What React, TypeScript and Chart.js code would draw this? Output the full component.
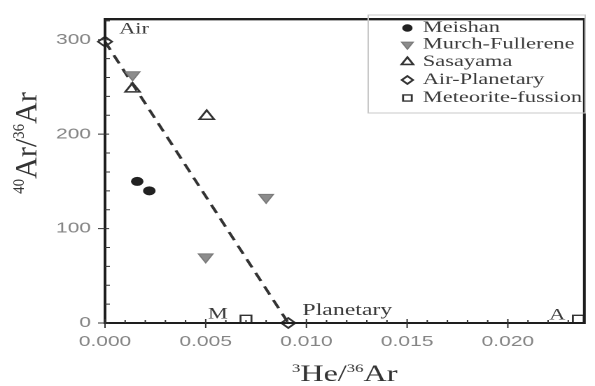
import React, { useEffect, useRef } from 'react';
import { Chart, registerables } from 'chart.js';
import { drawPoint } from 'chart.js/helpers';

Chart.register(...registerables);

// ---- data ----
const seriesNames = ['Meishan', 'Murch-Fullerene', 'Sasayama', 'Air-Planetary', 'Meteorite-fussion'];
const meishanX = [0.0016, 0.0022];
const meishanY = [150, 140];
const murchX = [0.00137, 0.005, 0.008];
const murchY = [263, 70, 133];
const sasayamaX = [0.00137, 0.00505];
const sasayamaY = [248, 219];
const airPlanetaryX = [0, 0.0091];
const airPlanetaryY = [298, 0];
const meteoriteX = [0.007, 0.0235];
const meteoriteY = [4, 4];
const xTicks = [0, 0.005, 0.01, 0.015, 0.02];
const yTicks = [0, 100, 200, 300];
const labelTexts = ['Air', 'M', 'Planetary', 'A'];
const labelX = [0.0007, 0.0056, 0.0098, 0.02245];
const labelY = [311, 9, 13, 8];

const SX = 1.4; // horizontal stretch of the original picture
const W = 425;
const H = 386;
const SERIF = '"Liberation Serif", "Times New Roman", serif';
const SANS = '"Liberation Sans", Arial, sans-serif';

const zip = (xs: number[], ys: number[]) => xs.map((x, i) => ({ x, y: ys[i] }));

const styles: any[] = [
  { pointStyle: 'circle', radius: 4, rotation: 0, bg: '#222', border: '#222', bw: 1 },
  { pointStyle: 'triangle', radius: 6, rotation: 180, bg: '#8c8c8c', border: '#7a7a7a', bw: 1 },
  { pointStyle: 'triangle', radius: 6, rotation: 0, bg: 'rgba(0,0,0,0)', border: '#333', bw: 1.6 },
  { pointStyle: 'rectRot', radius: 5, rotation: 0, bg: 'rgba(0,0,0,0)', border: '#333', bw: 1.6 },
  { pointStyle: 'rect', radius: 5.5, rotation: 0, bg: 'rgba(0,0,0,0)', border: '#333', bw: 1.4 },
];

function drawRich(ctx: CanvasRenderingContext2D, parts: { t: string; size: number; dy: number }[], x: number, y: number) {
  let total = 0;
  const widths = parts.map((p) => {
    ctx.font = `${p.size}px ${SERIF}`;
    const w = ctx.measureText(p.t).width;
    total += w;
    return w;
  });
  let cx = x - total / 2;
  parts.forEach((p, i) => {
    ctx.font = `${p.size}px ${SERIF}`;
    ctx.fillText(p.t, cx, y + p.dy);
    cx += widths[i];
  });
}

const decorPlugin = {
  id: 'decor',
  afterDraw(chart: any) {
    const { ctx, chartArea: ca, scales } = chart;
    const xs = scales.x;
    const ys = scales.y;
    ctx.save();
    // frame
    ctx.strokeStyle = '#1e1e1e';
    ctx.lineWidth = 2;
    ctx.strokeRect(ca.left, ca.top, ca.right - ca.left, ca.bottom - ca.top);
    ctx.lineWidth = 1.2;
    ctx.beginPath();
    ctx.moveTo(ca.left, ca.top + 0.8);
    ctx.lineTo(ca.right, ca.top + 0.8);
    ctx.stroke();
    // ticks
    ctx.lineWidth = 1;
    ctx.strokeStyle = '#333';
    ctx.beginPath();
    for (let i = 0; i <= 23; i++) {
      const v = i * 0.001;
      const p = xs.getPixelForValue(v);
      const major = i % 5 === 0;
      ctx.moveTo(p, ca.bottom - (major ? 4 : 3));
      ctx.lineTo(p, ca.bottom + (major ? 5 : 0));
    }
    for (let v = 0; v <= 320; v += 20) {
      const p = ys.getPixelForValue(v);
      const major = v % 100 === 0;
      ctx.moveTo(ca.left - (major ? 5 : 0), p);
      ctx.lineTo(ca.left + (major ? 3 : 3.5), p);
    }
    ctx.stroke();

    // annotations
    ctx.fillStyle = '#3a3a3a';
    ctx.textBaseline = 'middle';
    labelTexts.forEach((t, i) => {
      ctx.font = `${t === 'Planetary' ? 17 : 16}px ${SERIF}`;
      ctx.textAlign = t === 'Air' || t === 'Planetary' ? 'left' : 'center';
      ctx.fillText(t, xs.getPixelForValue(labelX[i]), ys.getPixelForValue(labelY[i]));
    });

    // legend
    const bx = 263, by = 15, bw = 155, bh = 98;
    ctx.strokeStyle = '#c8c8c8';
    ctx.lineWidth = 1;
    ctx.strokeRect(bx, by, bw, bh);
    const rowsY = [28, 44.5, 62, 80, 98];
    seriesNames.forEach((name, i) => {
      const s = styles[i];
      ctx.fillStyle = s.bg;
      ctx.strokeStyle = s.border;
      ctx.lineWidth = s.bw;
      drawPoint(ctx, { pointStyle: s.pointStyle, radius: s.radius * 0.8, rotation: s.rotation, borderWidth: s.bw }, 291, rowsY[i]);
      ctx.fillStyle = '#3a3a3a';
      ctx.font = `16px ${SERIF}`;
      ctx.textAlign = 'left';
      ctx.textBaseline = 'middle';
      ctx.fillText(name, 302, rowsY[i]);
    });

    // axis titles
    ctx.fillStyle = '#333';
    ctx.textAlign = 'left';
    ctx.textBaseline = 'alphabetic';
    drawRich(ctx, [
      { t: '3', size: 12, dy: -9 },
      { t: 'He/', size: 23, dy: 0 },
      { t: '36', size: 12, dy: -9 },
      { t: 'Ar', size: 23, dy: 0 },
    ], (ca.left + ca.right) / 2, 381);

    ctx.translate(18.6, 143);
    ctx.rotate(-Math.PI / 2);
    ctx.scale(1, (1 / SX) * 1.05);
    drawRich(ctx, [
      { t: '40', size: 15, dy: -12 },
      { t: 'Ar/', size: 30, dy: 0 },
      { t: '36', size: 15, dy: -12 },
      { t: 'Ar', size: 30, dy: 0 },
    ], 0, 10);
    ctx.restore();
  },
};

export default function App() {
  const ref = useRef<HTMLCanvasElement | null>(null);
  useEffect(() => {
    document.body.style.margin = '0';
    const canvas = ref.current!;
    const sets = [
      zip(meishanX, meishanY),
      zip(murchX, murchY),
      zip(sasayamaX, sasayamaY),
      zip(airPlanetaryX, airPlanetaryY),
      zip(meteoriteX, meteoriteY),
    ];
    const chart = new Chart(canvas, {
      type: 'scatter',
      data: {
        datasets: sets.map((data, i) => {
          const s = styles[i];
          const ds: any = {
            label: seriesNames[i],
            data,
            pointStyle: s.pointStyle,
            pointRadius: s.radius,
            pointRotation: s.rotation,
            pointBackgroundColor: s.bg,
            pointBorderColor: s.border,
            pointBorderWidth: s.bw,
            backgroundColor: s.bg,
            borderColor: s.border,
            clip: false,
          };
          if (i === 3) {
            ds.showLine = true;
            ds.borderDash = [9, 6];
            ds.borderWidth = 2.2;
            ds.borderColor = '#333';
          }
          return ds;
        }),
      },
      options: {
        animation: false,
        responsive: false,
        devicePixelRatio: 2,
        layout: { padding: { top: 10, right: 3.5, left: 0, bottom: 0 } },
        plugins: { legend: { display: false }, tooltip: { enabled: false } },
        scales: {
          x: {
            type: 'linear',
            min: 0,
            max: 0.0238,
            grid: { display: false, drawTicks: false },
            border: { display: false },
            afterBuildTicks: (sc: any) => { sc.ticks = xTicks.map((v) => ({ value: v })); },
            afterFit: (sc: any) => { sc.height = 63; },
            ticks: {
              padding: 10,
              color: '#858585',
              font: { family: SANS, size: 15 },
              callback: (v: any) => Number(v).toFixed(3),
            },
          },
          y: {
            type: 'linear',
            min: 0,
            max: 322,
            grid: { display: false, drawTicks: false },
            border: { display: false },
            afterBuildTicks: (sc: any) => { sc.ticks = yTicks.map((v) => ({ value: v })); },
            afterFit: (sc: any) => { sc.width = 75; },
            ticks: {
              padding: 10,
              color: '#858585',
              font: { family: SANS, size: 15 },
              callback: (v: any) => String(v),
            },
          },
        },
      },
      plugins: [decorPlugin],
    } as any);
    return () => chart.destroy();
  }, []);
  return (
    <div style={{ width: W, height: H, transform: `scaleX(${SX})`, transformOrigin: '0 0' }}>
      <canvas ref={ref} width={W} height={H} style={{ width: W, height: H, display: 'block' }} />
    </div>
  );
}
